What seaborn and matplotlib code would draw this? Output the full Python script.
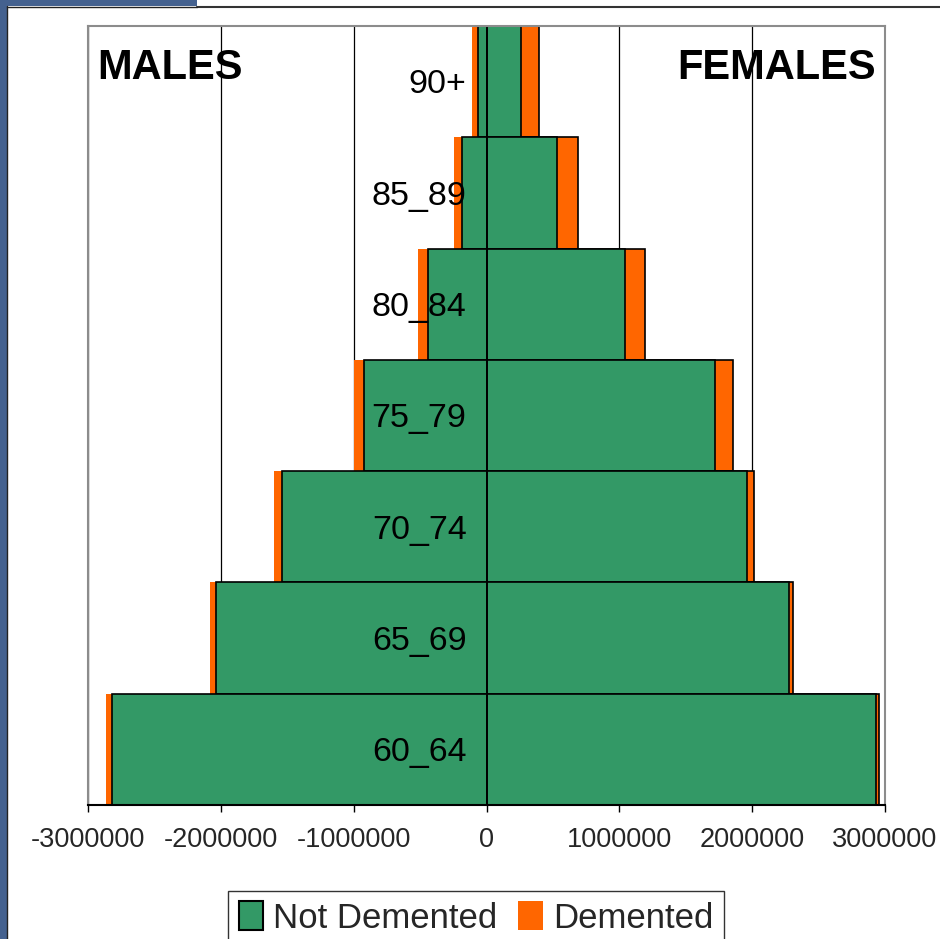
import matplotlib
matplotlib.use("Agg")
import matplotlib.pyplot as plt
import seaborn as sns
import pandas as pd
from matplotlib.patches import Rectangle, Patch
from matplotlib.lines import Line2D

ages = ['90+', '85_89', '80_84', '75_79', '70_74', '65_69', '60_64']
male_not_demented = [63000, 186000, 442000, 921000, 1540000, 2035000, 2816000]
male_demented = [45000, 60000, 75000, 75000, 60000, 45000, 50000]
female_not_demented = [263000, 530000, 1044000, 1723000, 1959000, 2280000, 2932000]
female_demented = [132000, 161000, 150000, 132000, 58000, 30000, 22000]
xticks = [-3000000, -2000000, -1000000, 0, 1000000, 2000000, 3000000]

GREEN = '#339966'
ORANGE = '#FF6600'

df = pd.DataFrame({
    'age': ages,
    'm_nd': [-v for v in male_not_demented],
    'm_tot': [-(a + b) for a, b in zip(male_not_demented, male_demented)],
    'f_nd': female_not_demented,
    'f_tot': [a + b for a, b in zip(female_not_demented, female_demented)],
})

sns.set_theme(style='white')
plt.rcParams['font.family'] = ['Liberation Sans', 'DejaVu Sans']

fig = plt.figure(figsize=(9.4, 9.39), dpi=100)
ax = fig.add_axes([88/940, 1-805/939, (885-88)/940, (805-26)/939])

# vertical gridlines
for t in xticks:
    ax.axvline(t, color='black', lw=0.9, zorder=0)

sns.barplot(data=df, y='age', x='m_tot', order=ages, orient='h', color=ORANGE,
            width=1.0, saturation=1, linewidth=0, edgecolor='none', ax=ax, zorder=2)
sns.barplot(data=df, y='age', x='m_nd', order=ages, orient='h', color=GREEN,
            width=1.0, saturation=1, linewidth=1.2, edgecolor='black', ax=ax, zorder=3)
sns.barplot(data=df, y='age', x='f_tot', order=ages, orient='h', color=ORANGE,
            width=1.0, saturation=1, linewidth=1.2, edgecolor='black', ax=ax, zorder=2)
sns.barplot(data=df, y='age', x='f_nd', order=ages, orient='h', color=GREEN,
            width=1.0, saturation=1, linewidth=1.2, edgecolor='black', ax=ax, zorder=3)

ax.axvline(0, color='black', lw=1.3, zorder=4)

ax.set_xlim(-3000000, 3000000)
ax.set_ylim(len(ages) - 0.5, -0.5)
ax.set_xlabel('')
ax.set_ylabel('')
ax.set_yticks([])
ax.set_xticks(xticks)
ax.set_xticklabels([str(t) for t in xticks], fontsize=19.5)
ax.tick_params(axis='x', direction='out', length=5, width=1, color='black', pad=11, bottom=True)

for side in ['left', 'top', 'right']:
    ax.spines[side].set_color('#8c8c8c')
    ax.spines[side].set_linewidth(1.5)
ax.spines['bottom'].set_color('black')
ax.spines['bottom'].set_linewidth(1.5)
for s in ax.spines.values():
    s.set_zorder(5)

# category labels inside the plot
for i, a in enumerate(ages):
    ax.text(-150000, i + 0.03, a, ha='right', va='center', fontsize=24.5,
            color='black', zorder=6)

ax.text(0.012, 0.972, 'MALES', transform=ax.transAxes, ha='left', va='top',
        fontsize=30, fontweight='bold', color='black', zorder=6)
ax.text(0.988, 0.972, 'FEMALES', transform=ax.transAxes, ha='right', va='top',
        fontsize=30, fontweight='bold', color='black', zorder=6)

# slide frame decorations
fig.patches.append(Rectangle((0, 0), 7/940, 1, transform=fig.transFigure,
                             facecolor='#44618F', edgecolor='none', zorder=0))
fig.patches.append(Rectangle((0, 1-6/939), 197/940, 6/939, transform=fig.transFigure,
                             facecolor='#44618F', edgecolor='none', zorder=0))
fig.lines.append(Line2D([197/940, 1], [1-6.5/939, 1-6.5/939], transform=fig.transFigure,
                        color='#333333', lw=1.5))
fig.lines.append(Line2D([7.5/940, 7.5/940], [0, 1-6/939], transform=fig.transFigure,
                        color='#222222', lw=1.0))
fig.lines.append(Line2D([7/940, 197/940], [1-6.5/939, 1-6.5/939], transform=fig.transFigure,
                        color='#222222', lw=1.0))

handles = [Patch(facecolor=GREEN, edgecolor='black', linewidth=1.5, label='Not Demented'),
           Patch(facecolor=ORANGE, edgecolor='none', label='Demented')]
leg = fig.legend(handles=handles, loc='upper center', bbox_to_anchor=(476/940, 1-891/939),
                 ncol=2, frameon=True, fancybox=False, edgecolor='black',
                 prop={'size': 25},
                 handlelength=0.7, handleheight=0.9, handletextpad=0.3, columnspacing=0.6,
                 borderpad=0.3, borderaxespad=0)
leg.get_frame().set_linewidth(1.0)

fig.savefig('out.png', dpi=100, facecolor='white')
